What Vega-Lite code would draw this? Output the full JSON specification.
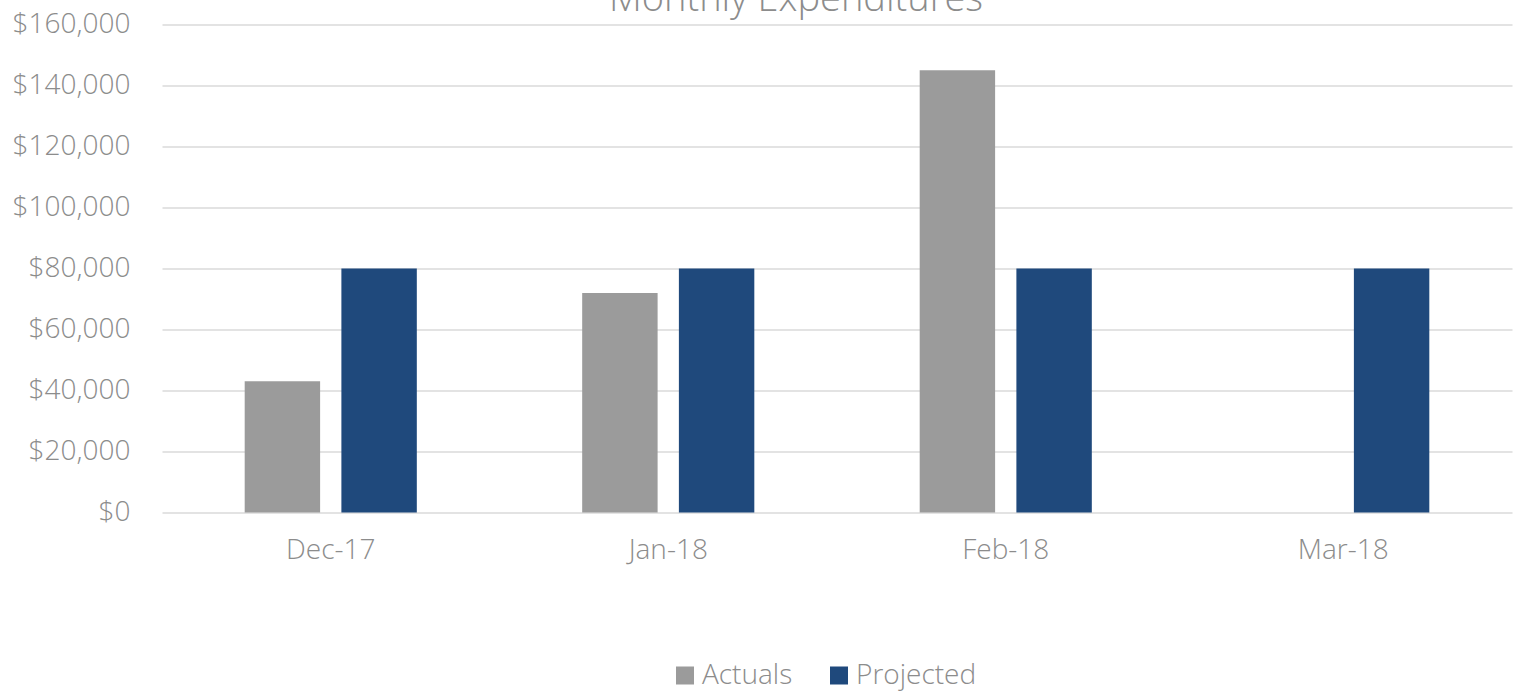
{
  "$schema": "https://vega.github.io/schema/vega-lite/v6.json",
  "width": 1350,
  "height": 488,
  "autosize": {"type": "none"},
  "padding": {"left": 162, "top": 24.5, "right": 12, "bottom": 185.5},
  "background": "white",
  "title": {
    "text": "Monthly Expenditures",
    "font": "Open Sans",
    "fontSize": 38,
    "fontWeight": 300,
    "color": "#8c8c8c",
    "anchor": "middle",
    "baseline": "alphabetic",
    "offset": 0,
    "dy": 38,
    "dx": -41
  },
  "data": {
    "values": [
      {"month": "Dec-17", "series": "Actuals", "value": 43000},
      {"month": "Dec-17", "series": "Projected", "value": 80000},
      {"month": "Jan-18", "series": "Actuals", "value": 72000},
      {"month": "Jan-18", "series": "Projected", "value": 80000},
      {"month": "Feb-18", "series": "Actuals", "value": 145000},
      {"month": "Feb-18", "series": "Projected", "value": 80000},
      {"month": "Mar-18", "series": "Projected", "value": 80000}
    ]
  },
  "mark": {"type": "bar"},
  "encoding": {
    "x": {
      "field": "month",
      "type": "nominal",
      "sort": ["Dec-17", "Jan-18", "Feb-18", "Mar-18"],
      "scale": {"paddingInner": 0.49, "paddingOuter": 0.245},
      "axis": {
        "title": null,
        "labelAngle": 0,
        "domain": false,
        "ticks": false,
        "labelPadding": 24,
        "labelFont": "Open Sans",
        "labelFontWeight": 300,
        "labelFontSize": 28,
        "labelColor": "#8c8c8c"
      }
    },
    "xOffset": {
      "field": "series",
      "type": "nominal",
      "scale": {"domain": ["Actuals", "Projected"], "paddingInner": 0.22, "paddingOuter": 0}
    },
    "y": {
      "field": "value",
      "type": "quantitative",
      "scale": {"domain": [0, 160000], "nice": false},
      "axis": {
        "title": null,
        "values": [0, 20000, 40000, 60000, 80000, 100000, 120000, 140000, 160000],
        "format": "$,.0f",
        "domain": false,
        "ticks": false,
        "labelPadding": 32,
        "labelFont": "Open Sans",
        "labelFontWeight": 300,
        "labelFontSize": 28,
        "labelColor": "#8c8c8c",
        "gridColor": "#e3e3e3",
        "gridWidth": 2
      }
    },
    "color": {
      "field": "series",
      "type": "nominal",
      "scale": {"domain": ["Actuals", "Projected"], "range": ["#9b9b9b", "#1f497c"]},
      "legend": {
        "title": null,
        "orient": "none",
        "legendX": 509,
        "legendY": 637,
        "direction": "horizontal",
        "symbolType": "square",
        "symbolSize": 324,
        "symbolStrokeWidth": 0,
        "symbolOpacity": 1,
        "labelFont": "Open Sans",
        "labelFontWeight": 300,
        "labelFontSize": 28,
        "labelColor": "#8c8c8c",
        "labelOffset": 3,
        "columnPadding": 32
      }
    }
  },
  "config": {"view": {"stroke": null}}
}
